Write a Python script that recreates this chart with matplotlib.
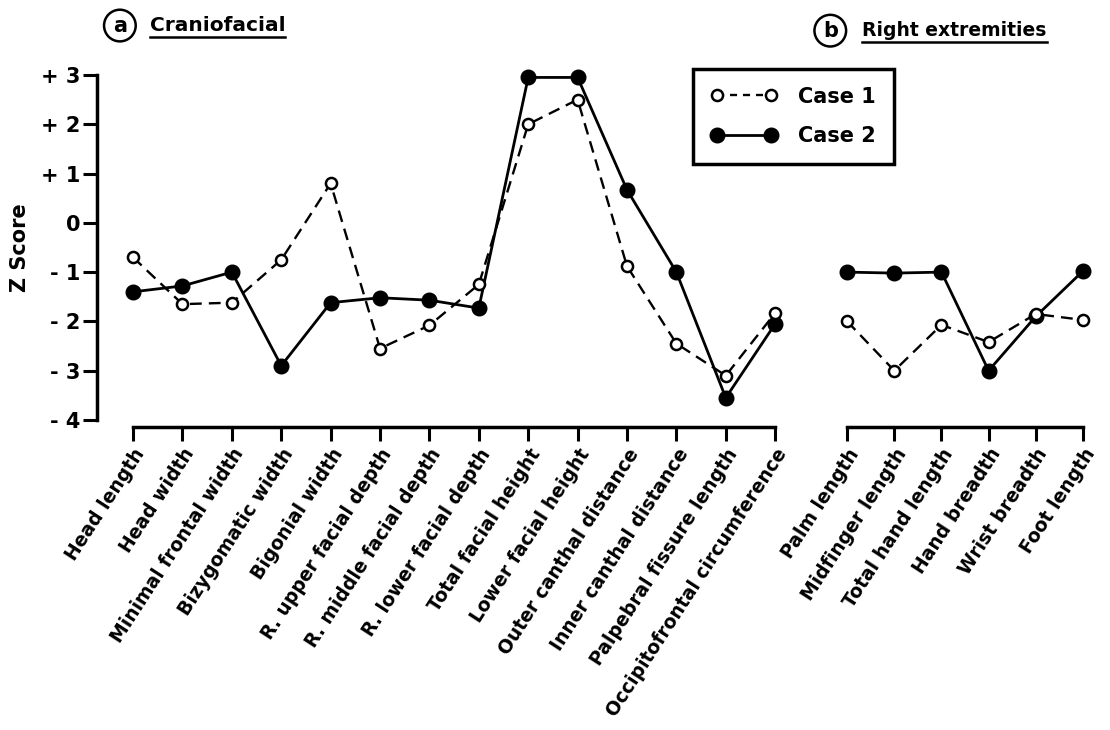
import matplotlib
matplotlib.use("Agg")
import matplotlib.pyplot as plt
from matplotlib.lines import Line2D

plt.rcParams['font.family'] = ['DejaVu Sans']

# craniofacial measurements (panel a)
cranio_labels = ['Head length', 'Head width', 'Minimal frontal width', 'Bizygomatic width',
                 'Bigonial width', 'R. upper facial depth', 'R. middle facial depth',
                 'R. lower facial depth', 'Total facial height', 'Lower facial height',
                 'Outer canthal distance', 'Inner canthal distance',
                 'Palpebral fissure length', 'Occipitofrontal circumference']
cranio_case1 = [-0.7, -1.65, -1.62, -0.75, 0.8, -2.55, -2.08, -1.25, 2.0, 2.5,
                -0.88, -2.45, -3.1, -1.83]
cranio_case2 = [-1.4, -1.28, -1.0, -2.9, -1.62, -1.52, -1.57, -1.73, 2.95, 2.95,
                0.67, -1.0, -3.55, -2.05]

# right extremities (panel b)
extr_labels = ['Palm length', 'Midfinger length', 'Total hand length', 'Hand breadth',
               'Wrist breadth', 'Foot length']
extr_case1 = [-2.0, -3.0, -2.07, -2.42, -1.85, -1.97]
extr_case2 = [-1.0, -1.02, -1.0, -3.0, -1.9, -0.98]

yticks = [3, 2, 1, 0, -1, -2, -3, -4]
ytick_labels = ['+ 3', '+ 2', '+ 1', '0', '- 1', '- 2', '- 3', '- 4']

fig = plt.figure(figsize=(11.1, 7.3), dpi=100)
ax1 = fig.add_axes([0.0874, 0.4247, 0.6243, 0.4726])
ax2 = fig.add_axes([0.7505, 0.4247, 0.2378, 0.4726])


def draw_cases(ax, c1, c2):
    x = range(len(c1))
    ax.plot(x, c2, '-', color='black', lw=2.0, marker='o', ms=10.5,
            mfc='black', mec='black', clip_on=False, zorder=3)
    ax.plot(x, c1, color='black', lw=1.7, ls=(0, (5, 3)), marker='o', ms=8,
            mfc='white', mec='black', mew=1.8, clip_on=False, zorder=4)


draw_cases(ax1, cranio_case1, cranio_case2)
draw_cases(ax2, extr_case1, extr_case2)

for ax, labels in [(ax1, cranio_labels), (ax2, extr_labels)]:
    n = len(labels)
    ax.set_ylim(-4, 3)
    ax.spines['top'].set_visible(False)
    ax.spines['right'].set_visible(False)
    ax.spines['bottom'].set_position(('outward', 5))
    ax.spines['bottom'].set_bounds(0, n - 1)
    ax.spines['bottom'].set_linewidth(2.5)
    ax.tick_params(axis='x', direction='out', length=10, width=2.2, pad=3)
    ax.set_xticks(range(n))
    ax.set_xticklabels(labels, rotation=57, ha='right', va='top',
                       rotation_mode='anchor', fontsize=13.5, fontweight='bold')

ax1.set_xlim(-0.73, 13.3)
ax2.set_xlim(-0.3, 5.3)

ax1.spines['left'].set_bounds(-4, 3)
ax1.spines['left'].set_linewidth(2.5)
ax1.tick_params(axis='y', direction='out', length=10, width=2.2, pad=2)
ax1.set_yticks(yticks)
ax1.set_yticklabels(ytick_labels, fontsize=15, fontweight='bold')
ax1.set_ylabel('Z Score', fontsize=15, fontweight='bold', labelpad=8)

ax2.spines['left'].set_visible(False)
ax2.set_yticks([])

# legend
h1 = Line2D([], [], color='black', lw=1.7, ls=(0, (3, 2.5)), marker='o', ms=8,
            mfc='white', mec='black', mew=1.8)
h2 = Line2D([], [], color='black', lw=2.0, marker='o', ms=10.5, mfc='black')
leg = fig.legend([h1, h2], ['Case 1', 'Case 2'], loc='upper left',
                 bbox_to_anchor=(0.615, 0.92), numpoints=2, handlelength=3.2,
                 prop={'size': 15, 'weight': 'bold'}, frameon=True, fancybox=False,
                 borderpad=0.85, labelspacing=0.95, handletextpad=1.0)
leg.get_frame().set_edgecolor('black')
leg.get_frame().set_linewidth(2.5)
leg.get_frame().set_alpha(1)

# panel headings
fig.text(0.108, 0.965, 'a', fontsize=15, fontweight='bold', ha='center', va='center',
         bbox=dict(boxstyle='circle,pad=0.28', fc='white', ec='black', lw=1.8))
fig.text(0.748, 0.958, 'b', fontsize=15, fontweight='bold', ha='center', va='center',
         bbox=dict(boxstyle='circle,pad=0.28', fc='white', ec='black', lw=1.8))
t1 = fig.text(0.135, 0.965, 'Craniofacial', fontsize=14.5, fontweight='bold',
              ha='left', va='center')
t2 = fig.text(0.777, 0.958, 'Right extremities', fontsize=13.5, fontweight='bold',
              ha='left', va='center')

fig.canvas.draw()
r = fig.canvas.get_renderer()
for t in (t1, t2):
    bb = t.get_window_extent(r).transformed(fig.transFigure.inverted())
    y = bb.y0 - 0.002
    fig.add_artist(Line2D([bb.x0, bb.x1], [y, y], transform=fig.transFigure,
                          color='black', lw=1.8))

fig.savefig('out.png', dpi=100)
